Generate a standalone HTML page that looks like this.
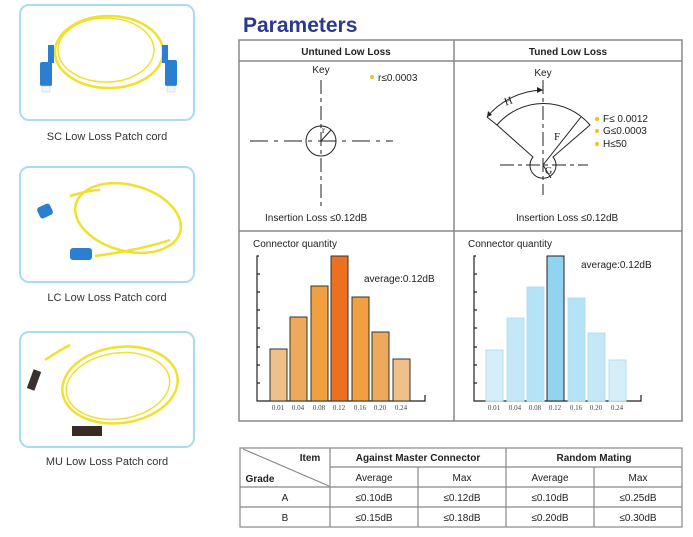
<!DOCTYPE html>
<html><head><meta charset="utf-8"><style>
body{margin:0;background:#fff;width:693px;height:537px;overflow:hidden}
svg{display:block;font-family:"Liberation Sans",sans-serif}
</style></head><body>
<svg width="693" height="537" viewBox="0 0 693 537">
<g fill="#fff" stroke="#a8dcee" stroke-width="2">
<rect x="20" y="5" width="174" height="115" rx="9"/>
<rect x="20" y="167" width="174" height="115" rx="9"/>
<rect x="20" y="332" width="174" height="115" rx="9"/>
</g>
<g fill="none" stroke="#f0e030" stroke-width="2.5">
<ellipse cx="109" cy="52" rx="54" ry="36"/><ellipse cx="106" cy="50" rx="48" ry="32" stroke-width="1.5"/>
<ellipse cx="128" cy="218" rx="54" ry="33" transform="rotate(15 128 218)"/>
<path d="M70 196 Q90 190 100 190"/><path d="M95 256 Q140 250 170 240"/>
<ellipse cx="120" cy="385" rx="58" ry="38" transform="rotate(-8 120 385)"/>
<ellipse cx="118" cy="386" rx="52" ry="33" transform="rotate(-8 118 386)" stroke-width="1.5"/>
<path d="M45 360 Q60 350 70 345"/>
</g>
<g fill="#2a7fd0">
<rect x="40" y="62" width="12" height="24" rx="2"/><rect x="165" y="60" width="12" height="26" rx="2"/>
<rect x="48" y="45" width="6" height="18"/><rect x="162" y="45" width="6" height="18"/>
<rect x="38" y="205" width="14" height="12" rx="3" transform="rotate(-25 45 211)"/>
<rect x="70" y="248" width="22" height="12" rx="3"/>
</g>
<g fill="#f4f4f4" stroke="#ccc" stroke-width="0.5"><rect x="42" y="86" width="8" height="6"/><rect x="167" y="86" width="8" height="6"/></g>
<rect x="30" y="370" width="8" height="20" fill="#3a3030" transform="rotate(20 34 380)"/>
<rect x="72" y="426" width="30" height="10" fill="#3a2a25"/>
<g fill="#333" font-size="11" text-anchor="middle">
<text x="107" y="140">SC Low Loss Patch cord</text>
<text x="107" y="301">LC Low Loss Patch cord</text>
<text x="107" y="465">MU Low Loss Patch cord</text>
</g>
<text x="243" y="32" font-size="21" font-weight="bold" fill="#2c3a8e">Parameters</text>
<g fill="none" stroke="#888" stroke-width="1.5">
<rect x="239" y="40" width="443" height="381"/>
<line x1="239" y1="61" x2="682" y2="61"/>
<line x1="454" y1="40" x2="454" y2="421"/>
<line x1="239" y1="231" x2="682" y2="231"/>
</g>
<g font-size="10" font-weight="bold" fill="#222" text-anchor="middle">
<text x="346" y="55">Untuned Low Loss</text><text x="568" y="55">Tuned Low Loss</text>
</g>
<g stroke="#222" stroke-width="1" fill="none">
<line x1="321" y1="80" x2="321" y2="208" stroke-dasharray="14,4,4,4"/>
<line x1="250" y1="141" x2="393" y2="141" stroke-dasharray="18,6,4,6"/>
<circle cx="321" cy="141" r="15"/>
<line x1="321" y1="141" x2="331" y2="130"/>
</g>
<text x="321" y="73" font-size="10" text-anchor="middle" fill="#222">Key</text>
<text x="322" y="133" font-size="9" font-family="Liberation Serif" fill="#222">r</text>
<circle cx="372" cy="77" r="2" fill="#f0c020"/>
<text x="378" y="81" font-size="10" fill="#222">r≤0.0003</text>
<text x="265" y="221" font-size="10" fill="#222">Insertion Loss ≤0.12dB</text>
<g stroke="#222" stroke-width="1" fill="none">
<line x1="543" y1="80" x2="543" y2="195" stroke-dasharray="14,4,4,4"/>
<line x1="500" y1="165" x2="588" y2="165" stroke-dasharray="14,4,4,4"/>
<path d="M497 125 A61 61 0 0 1 590 125 L553 157 A13 13 0 1 1 533 157 Z"/>
<line x1="543" y1="165" x2="581" y2="117"/>
<line x1="543" y1="165" x2="551" y2="178"/>
<path d="M487 117 A75 75 0 0 1 543 90"/>
<line x1="487" y1="117" x2="497" y2="125"/>
</g>
<path d="M543 90 l-6 -3 l0 6 z M487 117 l1 -6 l4 4 z" fill="#222"/>
<text x="543" y="76" font-size="10" text-anchor="middle" fill="#222">Key</text>
<text x="504" y="104" font-size="11" font-family="Liberation Serif" fill="#222" transform="rotate(-20 510 100)">H</text>
<text x="554" y="140" font-size="11" font-family="Liberation Serif" fill="#222">F</text>
<text x="545" y="174" font-size="10" font-family="Liberation Serif" fill="#222">G</text>
<g fill="#f0c020"><circle cx="597" cy="119" r="2"/><circle cx="597" cy="131" r="2"/><circle cx="597" cy="144" r="2"/></g>
<g font-size="10" fill="#222"><text x="603" y="122">F≤ 0.0012</text><text x="603" y="134">G≤0.0003</text><text x="603" y="147">H≤50</text></g>
<text x="516" y="221" font-size="10" fill="#222">Insertion Loss ≤0.12dB</text>
<g font-size="10" fill="#222"><text x="253" y="247">Connector quantity</text><text x="468" y="247">Connector quantity</text>
<text x="364" y="282">average:0.12dB</text><text x="581" y="268">average:0.12dB</text></g>
<g stroke="#222" stroke-width="1.2" fill="none">
<path d="M259 256 L257 256 L257 401 L425 401 L425 395"/>
<path d="M476 256 L474 256 L474 401 L641 401 L641 395"/>
<path d="M257 274h3M257 292h3M257 310h3M257 328h3M257 347h3M257 365h3M257 383h3"/>
<path d="M474 274h3M474 292h3M474 310h3M474 328h3M474 347h3M474 365h3M474 383h3"/>
</g>
<g stroke="#333" stroke-width="1">
<rect x="270" y="349" width="17" height="52" fill="#efc08a"/>
<rect x="290" y="317" width="17" height="84" fill="#eeaa5c"/>
<rect x="311" y="286" width="17" height="115" fill="#f0a040"/>
<rect x="331" y="256" width="17" height="145" fill="#ec7020"/>
<rect x="352" y="297" width="17" height="104" fill="#f0a040"/>
<rect x="372" y="332" width="17" height="69" fill="#eeaa5c"/>
<rect x="393" y="359" width="17" height="42" fill="#efc08a"/>
</g>
<g stroke="#b8dcec" stroke-width="1">
<rect x="486" y="350" width="17" height="51" fill="#d4eefa"/>
<rect x="507" y="318" width="17" height="83" fill="#c4e8f8"/>
<rect x="527" y="287" width="17" height="114" fill="#b4e2f6"/>
<rect x="547" y="256" width="17" height="145" fill="#90d4f2" stroke="#222"/>
<rect x="568" y="298" width="17" height="103" fill="#b4e2f6"/>
<rect x="588" y="333" width="17" height="68" fill="#c4e8f8"/>
<rect x="609" y="360" width="17" height="41" fill="#d4eefa"/>
</g>
<g font-size="7" font-family="Liberation Serif" fill="#444" text-anchor="middle">
<text x="278" y="410">0.01</text><text x="298" y="410">0.04</text><text x="319" y="410">0.08</text><text x="339" y="410">0.12</text><text x="360" y="410">0.16</text><text x="380" y="410">0.20</text><text x="401" y="410">0.24</text>
<text x="494" y="410">0.01</text><text x="515" y="410">0.04</text><text x="535" y="410">0.08</text><text x="555" y="410">0.12</text><text x="576" y="410">0.16</text><text x="596" y="410">0.20</text><text x="617" y="410">0.24</text>
</g>
<g stroke="#888" stroke-width="1.2" fill="none">
<rect x="240" y="448" width="442" height="79"/>
<line x1="330" y1="467" x2="682" y2="467"/>
<line x1="240" y1="487" x2="682" y2="487"/>
<line x1="240" y1="507" x2="682" y2="507"/>
<line x1="330" y1="448" x2="330" y2="527"/>
<line x1="506" y1="448" x2="506" y2="527"/>
<line x1="418" y1="467" x2="418" y2="527"/>
<line x1="594" y1="467" x2="594" y2="527"/>
<line x1="243" y1="449" x2="329" y2="486"/>
</g>
<g font-size="10" fill="#222" text-anchor="middle">
<text x="310" y="461" font-weight="bold">Item</text>
<text x="260" y="482" font-weight="bold">Grade</text>
<text x="418" y="461" font-weight="bold">Against Master Connector</text>
<text x="594" y="461" font-weight="bold">Random Mating</text>
<text x="374" y="481">Average</text><text x="462" y="481">Max</text><text x="550" y="481">Average</text><text x="638" y="481">Max</text>
<text x="285" y="501">A</text><text x="374" y="501">≤0.10dB</text><text x="462" y="501">≤0.12dB</text><text x="550" y="501">≤0.10dB</text><text x="638" y="501">≤0.25dB</text>
<text x="285" y="521">B</text><text x="374" y="521">≤0.15dB</text><text x="462" y="521">≤0.18dB</text><text x="550" y="521">≤0.20dB</text><text x="638" y="521">≤0.30dB</text>
</g>
</svg>
</body></html>
